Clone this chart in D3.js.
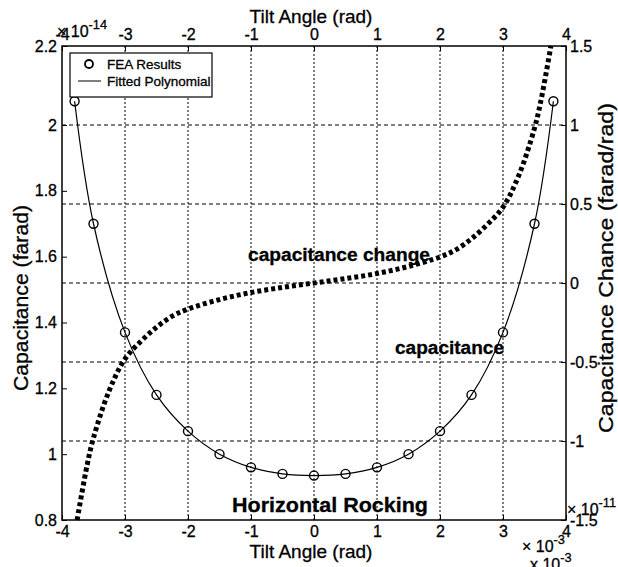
<!DOCTYPE html>
<html>
<head>
<meta charset="utf-8">
<script src="https://cdn.jsdelivr.net/npm/d3@7/dist/d3.min.js"></script>
<style>
  body { margin: 0; background: #fff; }
  svg text { font-family: "Liberation Sans", Arial, Helvetica, sans-serif; fill: #000; stroke: #000; stroke-width: 0.3px; }
</style>
</head>
<body>
<svg id="chart" width="618" height="567"></svg>
<script>
// Tilt angle (x 1e-3 rad) at which FEA capacitance was evaluated
const tiltFEA = [-3.8, -3.5, -3, -2.5, -2, -1.5, -1, -0.5, 0, 0.5, 1, 1.5, 2, 2.5, 3, 3.5, 3.8];
// Capacitance (x 1e-14 farad)
const capFEA  = [2.06, 1.70, 1.37, 1.18, 1.07, 1.00, 0.96, 0.94, 0.935, 0.94, 0.96, 1.00, 1.07, 1.18, 1.37, 1.70, 2.06];

// Capacitance change with tilt (x 1e-11 farad/rad)
const tiltRate = [-3.76, -3.6, -3.5, -3.25, -3, -2.75, -2.5, -2.25, -2, -1.5, -1, -0.5, 0,
                  0.5, 1, 1.5, 2, 2.25, 2.5, 2.75, 3, 3.25, 3.5, 3.6, 3.76];
const capRate  = [-1.5, -1.15, -0.98, -0.68, -0.48, -0.37, -0.28, -0.21, -0.165, -0.105, -0.06, -0.028, 0,
                  0.028, 0.06, 0.105, 0.165, 0.21, 0.28, 0.37, 0.48, 0.68, 0.98, 1.15, 1.5];

// Tick labels
const xTicks = [-4, -3, -2, -1, 0, 1, 2, 3, 4];
const leftTicks = [0.8, 1, 1.2, 1.4, 1.6, 1.8, 2, 2.2];
const rightTicks = [-1.5, -1, -0.5, 0, 0.5, 1, 1.5];
const gridX = [-3, -2, -1, 0, 1, 2, 3];
const gridY = [-1, -0.5, 0, 0.5, 1];

const svg = d3.select("#chart");
const L = 62, R = 566, T = 46, B = 520;

const x = d3.scaleLinear().domain([-4, 4]).range([L, R]);
const yL = d3.scaleLinear().domain([0.8, 2.0, 2.2]).range([B, 125, T]);
const yR = d3.scaleLinear().domain([-1.5, 1.5]).range([B, T]);

const fmt = d => String(d);
const TICK_FS = 16, TITLE_FS = 19;

// grid
const grid = svg.append("g").attr("stroke", "#000").attr("stroke-width", 1).attr("fill", "none");
grid.selectAll("line.gx").data(gridX).join("line")
  .attr("class", "gx")
  .attr("x1", d => x(d)).attr("x2", d => x(d)).attr("y1", T).attr("y2", B)
  .attr("stroke-dasharray", "2 2");
grid.selectAll("line.gy").data(gridY).join("line")
  .attr("class", "gy")
  .attr("x1", L).attr("x2", R).attr("y1", d => yR(d)).attr("y2", d => yR(d))
  .attr("stroke-dasharray", "4 3");

// axes (inner ticks)
function styleAxis(g) {
  g.select(".domain").remove();
  g.selectAll(".tick line").attr("stroke", "#000").attr("stroke-width", 1);
  g.selectAll(".tick text").attr("font-size", TICK_FS).attr("fill", "#000");
}
svg.append("g").attr("transform", `translate(0,${B})`)
  .call(d3.axisBottom(x).tickValues(xTicks).tickFormat(fmt).tickSizeInner(-5).tickSizeOuter(0).tickPadding(6))
  .call(styleAxis);
svg.append("g").attr("transform", `translate(0,${T})`)
  .call(d3.axisTop(x).tickValues(xTicks).tickFormat(fmt).tickSizeInner(-5).tickSizeOuter(0).tickPadding(6))
  .call(styleAxis);
svg.append("g").attr("transform", `translate(${L},0)`)
  .call(d3.axisLeft(yL).tickValues(leftTicks).tickFormat(fmt).tickSizeInner(-5).tickSizeOuter(0).tickPadding(5))
  .call(styleAxis);
svg.append("g").attr("transform", `translate(${R},0)`)
  .call(d3.axisRight(yR).tickValues(rightTicks).tickFormat(fmt).tickSizeInner(-5).tickSizeOuter(0).tickPadding(4))
  .call(styleAxis);

// frame
svg.append("rect").attr("x", L).attr("y", T).attr("width", R - L).attr("height", B - T)
  .attr("fill", "none").attr("stroke", "#000").attr("stroke-width", 1.5);

// capacitance change (thick dotted)
svg.append("path")
  .datum(tiltRate.map((t, i) => [t, capRate[i]]))
  .attr("fill", "none").attr("stroke", "#000").attr("stroke-width", 5)
  .attr("stroke-dasharray", "4 3")
  .attr("d", d3.line().x(d => x(d[0])).y(d => yR(d[1])).curve(d3.curveCatmullRom));

// fitted polynomial through the FEA points
const pts = tiltFEA.map((t, i) => [t, capFEA[i]]);
svg.append("path").datum(pts)
  .attr("fill", "none").attr("stroke", "#000").attr("stroke-width", 1.2)
  .attr("d", d3.line().x(d => x(d[0])).y(d => yL(d[1])).curve(d3.curveCatmullRom));

// FEA result markers
svg.selectAll("circle.fea").data(pts).join("circle")
  .attr("class", "fea")
  .attr("cx", d => x(d[0])).attr("cy", d => yL(d[1])).attr("r", 4.5)
  .attr("fill", "none").attr("stroke", "#000").attr("stroke-width", 1.4);

// legend
const lg = svg.append("g");
lg.append("rect").attr("x", 70).attr("y", 53).attr("width", 142).attr("height", 44)
  .attr("fill", "#fff").attr("stroke", "#000").attr("stroke-width", 1.2);
lg.append("circle").attr("cx", 89).attr("cy", 64).attr("r", 4)
  .attr("fill", "none").attr("stroke", "#000").attr("stroke-width", 1.8);
lg.append("text").attr("x", 107).attr("y", 68.5).attr("font-size", 13.5).text("FEA Results");
lg.append("line").attr("x1", 78).attr("x2", 101).attr("y1", 81).attr("y2", 81)
  .attr("stroke", "#000").attr("stroke-width", 1);
lg.append("text").attr("x", 107).attr("y", 85.5).attr("font-size", 13.5).text("Fitted Polynomial");

// axis titles
svg.append("text").attr("x", 311).attr("y", 558).attr("text-anchor", "middle")
  .attr("font-size", TITLE_FS).text("Tilt Angle (rad)");
svg.append("text").attr("x", 311).attr("y", 23).attr("text-anchor", "middle")
  .attr("font-size", TITLE_FS).text("Tilt Angle (rad)");
svg.append("text").attr("transform", "translate(28,298) rotate(-90)").attr("text-anchor", "middle")
  .attr("font-size", 20).attr("textLength", 186).attr("lengthAdjust", "spacingAndGlyphs")
  .text("Capacitance (farad)");
svg.append("text").attr("transform", "translate(613,268) rotate(-90)").attr("text-anchor", "middle")
  .attr("font-size", 20).attr("textLength", 330).attr("lengthAdjust", "spacingAndGlyphs")
  .text("Capacitance Chance (farad/rad)");

// exponent labels
function expo(xp, yp, base, pow, size) {
  const t = svg.append("text").attr("x", xp).attr("y", yp).attr("font-size", size);
  t.append("tspan").text(base);
  t.append("tspan").attr("dy", -8).attr("font-size", size * 0.8).text(pow);
}
expo(57, 37, "\u00d7 10", "-14", 16);
expo(522, 552, "\u00d7 10", "-3", 16);
expo(530, 570, "x 10", "-3", 16);
expo(567, 515, "\u00d7 10", "-11", 16);

// annotations
svg.append("text").attr("x", 248).attr("y", 261).attr("font-size", 18).attr("font-weight", "bold")
  .attr("textLength", 182).attr("lengthAdjust", "spacingAndGlyphs").text("capacitance change");
svg.append("text").attr("x", 395).attr("y", 354).attr("font-size", 18).attr("font-weight", "bold")
  .attr("textLength", 109).attr("lengthAdjust", "spacingAndGlyphs").text("capacitance");
svg.append("text").attr("x", 232).attr("y", 512).attr("font-size", 21).attr("font-weight", "bold")
  .attr("textLength", 196).attr("lengthAdjust", "spacingAndGlyphs").text("Horizontal Rocking");
</script>
</body>
</html>
